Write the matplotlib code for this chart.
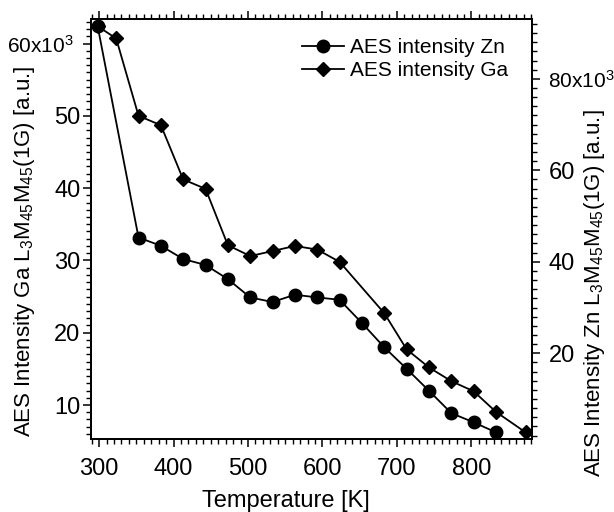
import numpy as np
import matplotlib
matplotlib.use('Agg')
from matplotlib import pyplot as plt
from matplotlib.ticker import MultipleLocator, FuncFormatter

plt.rcParams['font.family'] = ['Liberation Sans', 'DejaVu Sans']
plt.rcParams['mathtext.fontset'] = 'custom'
plt.rcParams['mathtext.rm'] = 'Liberation Sans'
plt.rcParams['mathtext.it'] = 'Liberation Sans:italic'

# Zn (circles, right axis)
temp_zn = [298, 353, 383, 413, 443, 473, 503, 533, 563, 593, 623, 653, 683, 713, 743, 773, 803, 833]
zn = [91.6, 45.3, 43.5, 40.6, 39.3, 36.2, 32.2, 31.2, 32.8, 32.2, 31.7, 26.6, 21.3, 16.6, 11.8, 6.9, 4.9, 2.7]

# Ga (diamonds, left axis)
temp_ga = [298, 323, 353, 383, 413, 443, 473, 503, 533, 563, 593, 623, 683, 713, 743, 773, 803, 833, 873]
ga = [62.4, 60.7, 50.0, 48.7, 41.2, 39.9, 32.1, 30.6, 31.3, 32.0, 31.5, 29.8, 22.7, 17.7, 15.2, 13.3, 11.9, 9.05, 6.2]

zn = np.array(zn) * 1e3
ga = np.array(ga) * 1e3

FS = 17


def fmt_left(v, pos):
    k = int(round(v / 1e3))
    return f'{k}x10$^{{3}}$  ' if k == 60 else f'{k}'


def fmt_right(v, pos):
    k = int(round(v / 1e3))
    return f'{k}x10$^{{3}}$' if k == 80 else f'{k}'


fig = plt.figure(figsize=(6.14, 5.12), dpi=100)
ax = fig.add_axes([0.148, 0.1426, 0.718, 0.8204])
ax2 = ax.twinx()

l_ga, = ax.plot(temp_ga, ga, color='black', lw=1.3, marker='D', ms=7.5, label='AES intensity Ga')
l_zn, = ax2.plot(temp_zn, zn, color='black', lw=1.3, marker='o', ms=9, label='AES intensity Zn')

ax.set_xlim(289, 881)
ax.set_ylim(5300, 63400)
ax2.set_ylim(1250, 93100)

ax.xaxis.set_major_locator(MultipleLocator(100))
ax.xaxis.set_minor_locator(MultipleLocator(10))
ax.yaxis.set_major_locator(MultipleLocator(10000))
ax.yaxis.set_minor_locator(MultipleLocator(1000))
ax.yaxis.set_major_formatter(FuncFormatter(fmt_left))
ax2.yaxis.set_major_locator(MultipleLocator(20000))
ax2.yaxis.set_minor_locator(MultipleLocator(2000))
ax2.yaxis.set_major_formatter(FuncFormatter(fmt_right))

ax.tick_params(axis='x', which='both', direction='out', top=True, labeltop=False)
ax.tick_params(axis='x', which='major', pad=8)
ax.tick_params(axis='y', which='major', pad=1.5)
ax.tick_params(which='major', length=6, width=1.1, labelsize=FS)
ax.tick_params(which='minor', length=3.5, width=1.0)
ax2.tick_params(which='major', length=6, width=1.1, labelsize=FS, pad=6)
ax2.tick_params(which='minor', length=3.5, width=1.0)
for a in (ax, ax2):
    for s in a.spines.values():
        s.set_linewidth(1.3)

ax.set_xlabel('Temperature [K]', fontsize=FS, va='center')
ax.xaxis.set_label_coords(0.443, -0.148)
ax.set_ylabel('AES Intensity Ga L$_3$M$_{45}$M$_{45}$(1G) [a.u.]', fontsize=16, va='center')
ax.yaxis.set_label_coords(-0.150, 0.446)
ax2.set_ylabel('AES Intensity Zn L$_3$M$_{45}$M$_{45}$(1G) [a.u.]', fontsize=16, va='center')
ax2.yaxis.set_label_coords(1.143, 0.346)

ax2.legend(handles=[l_zn, l_ga], loc='upper right', bbox_to_anchor=(0.946, 0.955),
           frameon=False, fontsize=15, handlelength=2.0, handletextpad=0.3,
           labelspacing=0.2, borderpad=0, borderaxespad=0)

# the "x10^3" labels are narrower in the original
fig.canvas.draw()
for a in (ax, ax2):
    for t in a.get_yticklabels():
        if 'x10' in t.get_text():
            t.set_fontsize(15)

fig.savefig('out.png', dpi=100)
